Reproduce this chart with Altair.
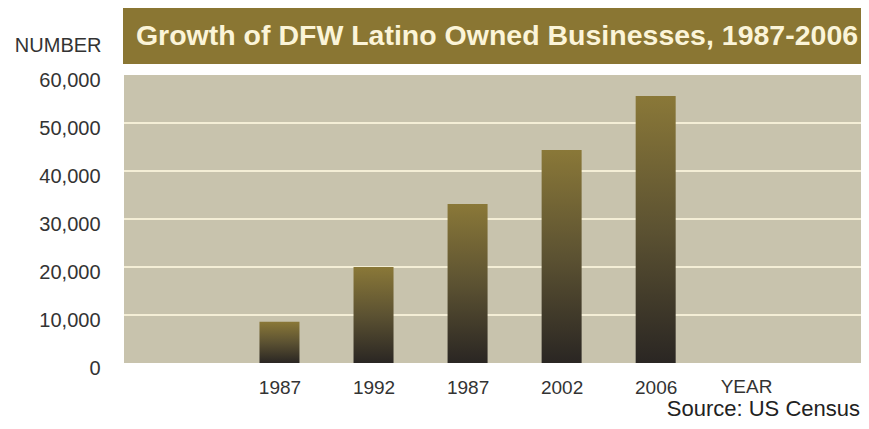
import json
import altair as alt
import pandas as pd

# ---- data ----
year_labels = ["1987", "1992", "1987", "2002", "2006"]
positions = [0, 1, 2, 3, 4]
businesses = [8600, 20000, 33100, 44400, 55600]
y_ticks = [0, 10000, 20000, 30000, 40000, 50000, 60000]
grid_values = [10000, 20000, 30000, 40000, 50000]

title_text = "Growth of DFW Latino Owned Businesses, 1987-2006"
source_text = "Source: US Census"

FONT = "Liberation Sans"
W, H = 737, 288

df = pd.DataFrame({"pos": positions, "label": year_labels, "value": businesses})
grid_df = pd.DataFrame({"g": grid_values})
one = pd.DataFrame({"k": [0]})

x_scale = alt.Scale(domain=[-1.6, 6.13], nice=False, zero=False)
y_scale = alt.Scale(domain=[0, 60000], nice=False)

label_expr = json.dumps(year_labels) + "[datum.value]"

y_axis = alt.Axis(
    values=y_ticks, format=",.0f",
    grid=False, ticks=False, domain=False,
    labelFont=FONT, labelFontSize=20, labelColor="#333333",
    labelPadding=24, labelOffset=5, labelFlush=False,
    title="NUMBER", titleFont=FONT, titleFontSize=20,
    titleFontWeight="normal", titleColor="#333333", titleAngle=0,
    titleX=-23, titleY=-30, titleAlign="right", titleBaseline="middle",
)

grad = alt.Gradient(
    gradient="linear",
    stops=[
        alt.GradientStop(color="#8a7838", offset=0),
        alt.GradientStop(color="#5c5232", offset=0.5),
        alt.GradientStop(color="#2a2623", offset=1),
    ],
    x1=0, x2=0, y1=0, y2=1,
)

grid = alt.Chart(grid_df).mark_rule(color="#f4eed6", strokeWidth=2).encode(
    y=alt.Y("g:Q", scale=y_scale, axis=y_axis)
)

bars = alt.Chart(df).mark_bar(size=40, color=grad).encode(
    x=alt.X(
        "pos:Q",
        scale=x_scale,
        axis=alt.Axis(
            values=positions,
            labelExpr=label_expr,
            grid=False, ticks=False, domain=False,
            labelFont=FONT, labelFontSize=19, labelColor="#333333",
            labelPadding=15, labelFlush=False,
            title="YEAR", titleFont=FONT, titleFontSize=19,
            titleFontWeight="normal", titleColor="#333333",
            titleX=622, titleY=23, titleAlign="center", titleBaseline="middle",
        ),
    ),
    y=alt.Y("value:Q", scale=y_scale, axis=y_axis),
)

banner = alt.Chart(one).mark_rect(color="#8a7633").encode(
    x=alt.value(-1), x2=alt.value(W), y=alt.value(-67), y2=alt.value(-11)
)

title = alt.Chart(one).mark_text(
    text=title_text, font=FONT, fontSize=28.5, fontWeight="bold",
    color="#fbf4d8", align="center", baseline="middle",
).encode(x=alt.value(373), y=alt.value(-39))

source = alt.Chart(one).mark_text(
    text=source_text, font=FONT, fontSize=22, color="#222222",
    align="right", baseline="bottom",
).encode(x=alt.value(W - 1), y=alt.value(346))

chart = alt.layer(grid, bars, banner, title, source).properties(
    width=W, height=H,
    autosize=alt.AutoSizeParams(type="none"),
    padding={"left": 116, "top": 67, "right": 0, "bottom": 58},
    background="white",
).configure_view(fill="#c8c3ad", stroke=None)

chart.save("out.html", embed_options={"renderer": "svg", "actions": False})
